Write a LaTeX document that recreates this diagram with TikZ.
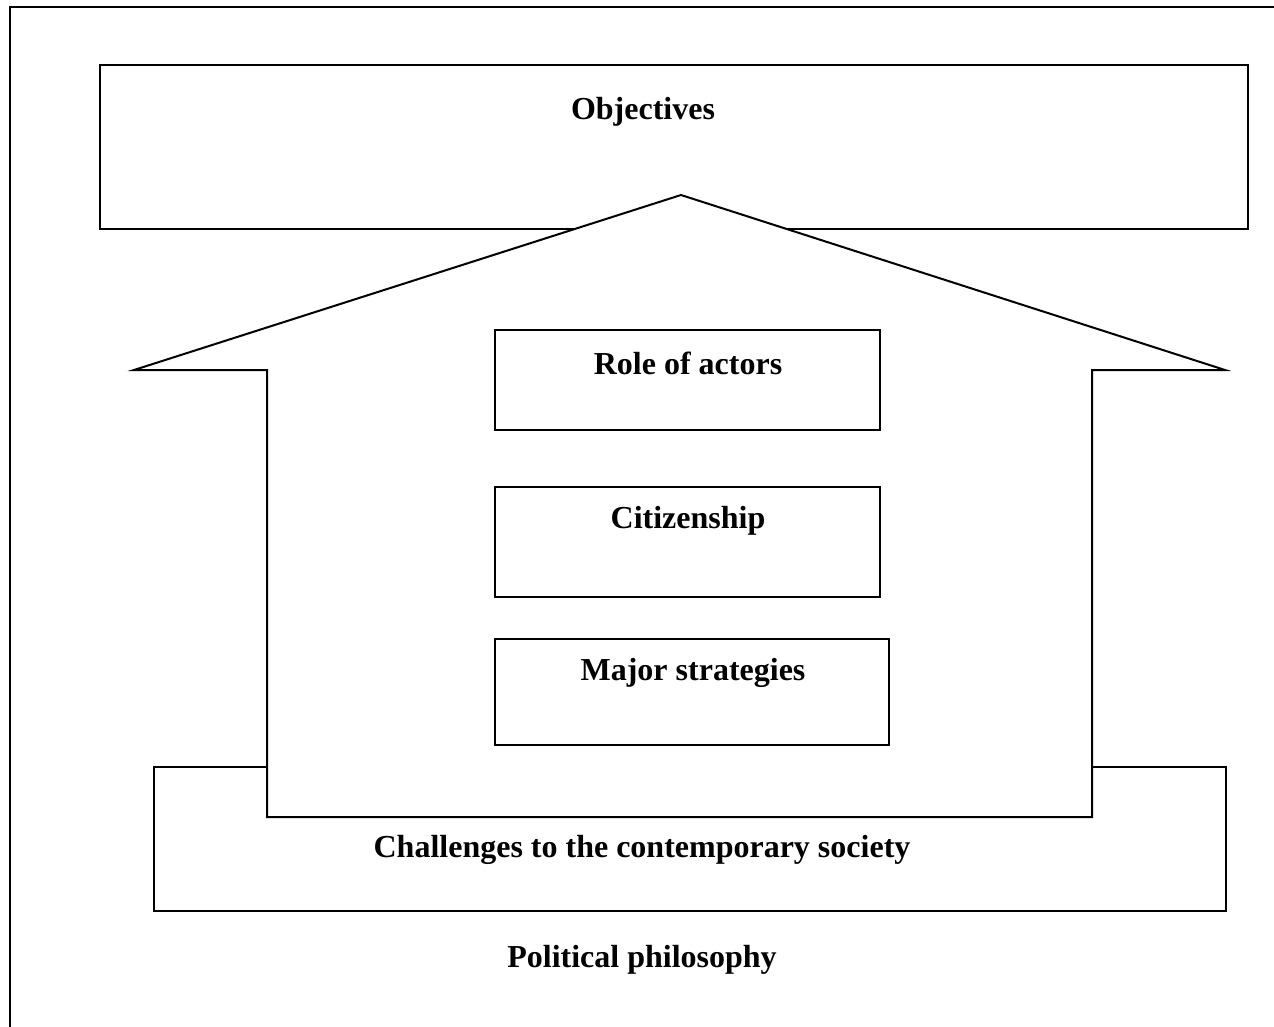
\documentclass[tikz,border=0pt]{standalone}
\usepackage{fontspec}
\setmainfont{Liberation Serif}
\usepackage{tikz}
\usetikzlibrary{shapes,positioning}

\begin{document}
\begin{tikzpicture}[x=1pt,y=-1pt]
			\tikzstyle{box}=[rectangle,draw,line width=2pt,inner sep=0pt,fill=white]
			\tikzstyle{lbl}=[inner sep=0pt,font=\fontsize{32}{36}\selectfont\bfseries]
			\useasboundingbox (0,0) rectangle (1274,1027);
			% outer frame (only top and left visible)
			\draw[line width=2.4pt] (1274,7) -- (10,7) -- (10,1027);
			\node[box,minimum width=1148pt,minimum height=164pt] (obj) at (674,147) {};
			\node[box,minimum width=1072pt,minimum height=144pt] (chall) at (690,839) {};
			% the house
			\draw[line width=2pt,fill=white,line join=miter] (134,370) coordinate (eaveL) -- (681,195) coordinate (apex) -- (1225,370) coordinate (eaveR)
				-- (1092,370) -- (1092,817) -- (267,817) -- (267,370) -- cycle;
			\node[box,minimum width=385pt,minimum height=100pt] (role) at (687.5,379.5) {};
			\node[box,minimum width=385pt,minimum height=110pt] (citiz) at (687.5,542) {};
			\node[box,minimum width=394pt,minimum height=106pt] (major) at (692,692) {};
			% labels
			\node[lbl] (objlbl) at (643,112) {Objectives};
			\node[lbl] (rolelbl) at (688,363) {Role of actors};
			\node[lbl] (citizlbl) at (688,521) {Citizenship};
			\node[lbl] (majorlbl) at (693,673) {Major strategies};
			\node[lbl] (challlbl) at (642,850) {Challenges to the contemporary society};
			\node[lbl] (philo) at (642,960) {Political philosophy};
		\end{tikzpicture}
\end{document}
